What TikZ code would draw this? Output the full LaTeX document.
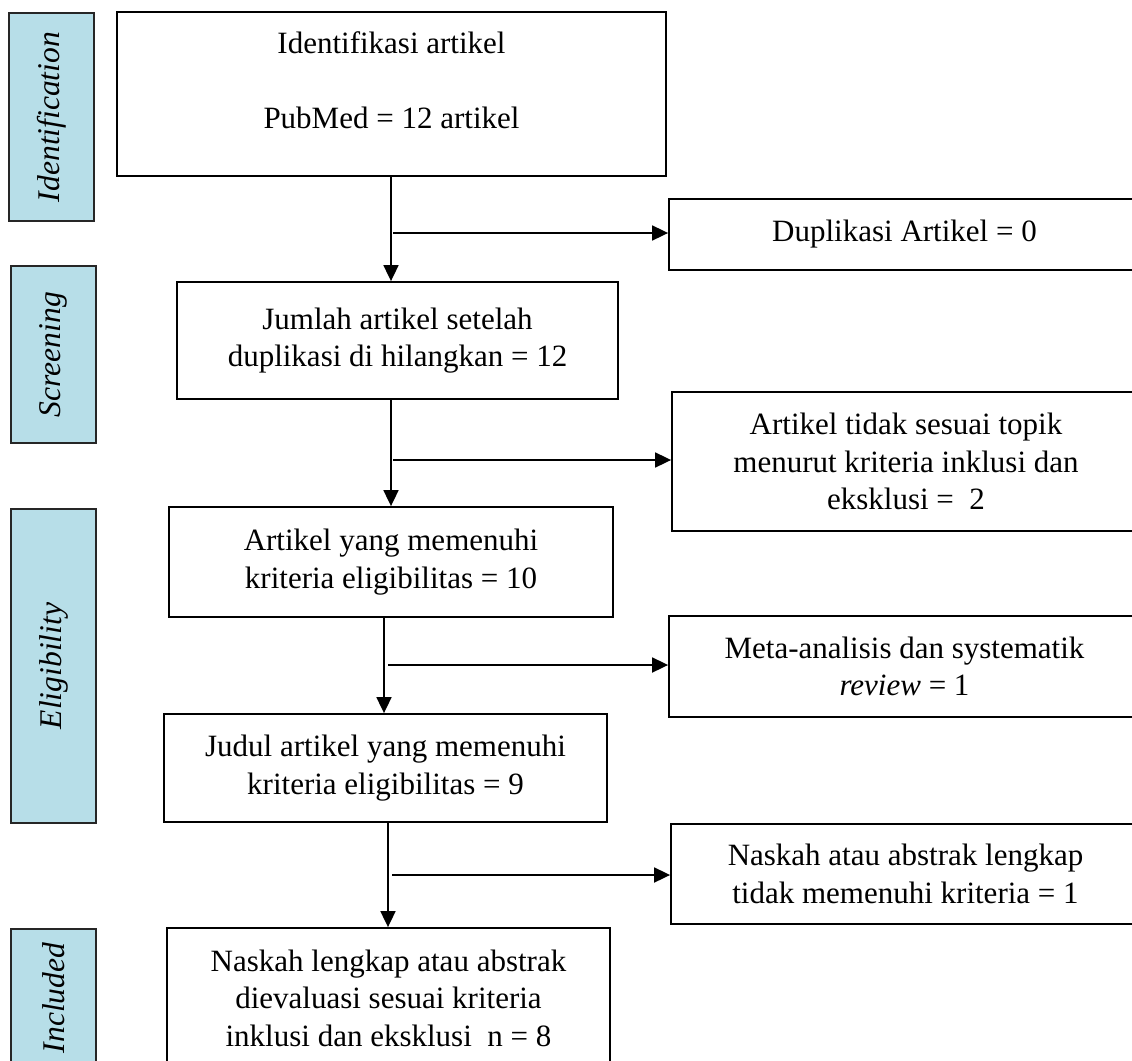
\documentclass[tikz,border=0pt]{standalone}
\usepackage{fontspec}
\setmainfont{Liberation Serif}
\usetikzlibrary{arrows.meta}
\definecolor{sideblue}{HTML}{B7DEE8}
\begin{document}
\begin{tikzpicture}[x=0.5pt,y=-0.5pt,
  box/.style={draw=black,line width=0.9pt,rectangle,inner sep=0pt,align=center,
    font=\fontsize{15.5}{18.75}\selectfont},
  txt/.style={inner sep=0pt,align=center,font=\fontsize{15.5}{18.75}\selectfont},
  side/.style={draw=black!85,line width=0.6pt,fill=sideblue,rectangle,inner sep=0pt,
    minimum width=42.5pt},
  sidetxt/.style={rotate=90,inner sep=0pt,font=\fontsize{15.8}{18}\selectfont\itshape},
  arr/.style={line width=0.9pt,-{Triangle[length=8pt,width=7.5pt]}}]
\clip (0,0) rectangle (1132,1061);
% side phase boxes
\node[side,minimum height=104pt] (S1) at (51.5,117) {};
\node[sidetxt] (S1t) at (S1.center) {Identification};
\node[side,minimum height=88.5pt] (S2) at (53.5,354.5) {};
\node[sidetxt] (S2t) at (S2.center) {Screening};
\node[side,minimum height=157pt] (S3) at (53.5,666) {};
\node[sidetxt] (S3t) at (S3.center) {Eligibility};
\node[side,minimum height=69pt] (S4) at (53.5,998) {};
\node[sidetxt] (S4t) at (S4.center) {Included};
% main column
\node[box,minimum width=274.5pt,minimum height=82pt] (B1) at (391.5,94) {};
\node[txt] (B1t) at (391.5,80) {Identifikasi artikel\\[18.75pt]PubMed = 12 artikel};
\node[box,minimum width=220.5pt,minimum height=58.5pt] (B2) at (397.5,340.5)
  {Jumlah artikel setelah\\duplikasi di hilangkan = 12};
\node[box,minimum width=222pt,minimum height=55pt] (B3) at (391,562)
  {Artikel yang memenuhi\\kriteria eligibilitas = 10};
\node[box,minimum width=221.5pt,minimum height=54pt] (B4) at (385.5,768)
  {Judul artikel yang memenuhi\\kriteria eligibilitas = 9};
\node[box,minimum width=221.5pt,minimum height=70pt] (B5) at (388.5,998)
  {Naskah lengkap atau abstrak\\dievaluasi sesuai kriteria\\inklusi dan eksklusi~~n = 8};
% excluded column
\node[box,minimum width=235.5pt,minimum height=35.5pt] (D1) at (904.5,234.5)
  {Duplikasi Artikel = 0};
\node[box,minimum width=234pt,minimum height=69.5pt] (D2) at (906,461.5)
  {Artikel tidak sesuai topik\\menurut kriteria inklusi dan\\eksklusi =~~2};
\node[box,minimum width=235.5pt,minimum height=50.5pt] (D3) at (904.5,666.5)
  {Meta-analisis dan systematik\\\textit{review} = 1};
\node[box,minimum width=234.5pt,minimum height=50pt] (D4) at (905.5,874)
  {Naskah atau abstrak lengkap\\tidak memenuhi kriteria = 1};
% junctions
\coordinate (j1) at (391,233); \coordinate (h1) at (393,233);
\coordinate (j2) at (391,460); \coordinate (h2) at (393,460);
\coordinate (j3) at (384,665); \coordinate (h3) at (388,665);
\coordinate (j4) at (388,875); \coordinate (h4) at (392,875);
% connectors
\draw[arr] (B1.south -| j1) -- (B2.north -| j1);
\draw[arr] (h1) -- (h1 -| D1.west);
\draw[arr] (B2.south -| j2) -- (B3.north -| j2);
\draw[arr] (h2) -- (h2 -| D2.west);
\draw[arr] (B3.south -| j3) -- (B4.north -| j3);
\draw[arr] (h3) -- (h3 -| D3.west);
\draw[arr] (B4.south -| j4) -- (B5.north -| j4);
\draw[arr] (h4) -- (h4 -| D4.west);
\end{tikzpicture}
\end{document}
